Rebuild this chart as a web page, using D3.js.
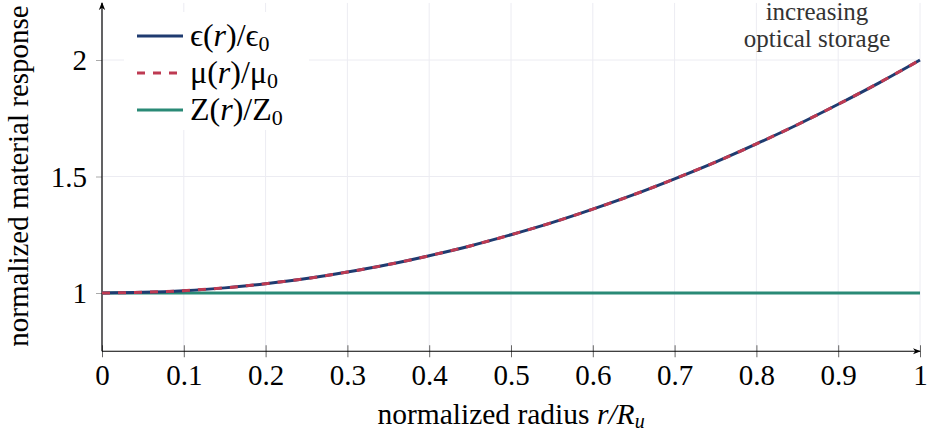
<!DOCTYPE html>
<html>
<head>
<meta charset="utf-8">
<script src="https://cdn.jsdelivr.net/npm/d3@7"></script>
<style>
  body { margin: 0; background: white; }
  svg text { font-family: "Liberation Serif", "DejaVu Serif", serif; }
</style>
</head>
<body>
<svg id="chart" width="928" height="436"></svg>
<script>
// values
const radius = [0, 0.05, 0.1, 0.15, 0.2, 0.25, 0.3, 0.35, 0.4, 0.45, 0.5,
  0.55, 0.6, 0.65, 0.7, 0.75, 0.8, 0.85, 0.9, 0.95, 1];
const epsRatio = [1, 1.003, 1.01, 1.022, 1.04, 1.062, 1.09, 1.122, 1.16, 1.202, 1.25,
  1.302, 1.36, 1.422, 1.49, 1.562, 1.64, 1.722, 1.81, 1.902, 2];
const muRatio = epsRatio.slice();
const zRatio = [1, 1, 1, 1, 1, 1, 1, 1, 1, 1, 1, 1, 1, 1, 1, 1, 1, 1, 1, 1, 1];
const xTicks = [0, 0.1, 0.2, 0.3, 0.4, 0.5, 0.6, 0.7, 0.8, 0.9, 1];
const yTicks = [1, 1.5, 2];

const svg = d3.select('#chart');
const x = d3.scaleLinear().domain([0, 1]).range([102, 920]);
const y = d3.scaleLinear().domain([1, 2]).range([293, 60]);
const yMin = 0.75, yMax = 2.245;

// grid
svg.append('g').selectAll('line')
  .data(xTicks)
  .enter().append('line')
  .attr('x1', d => x(d)).attr('x2', d => x(d))
  .attr('y1', y(yMin)).attr('y2', y(yMax))
  .attr('stroke', '#ececf2').attr('stroke-width', 1);
svg.append('g').selectAll('line')
  .data(yTicks)
  .enter().append('line')
  .attr('x1', x(0)).attr('x2', x(1))
  .attr('y1', d => y(d)).attr('y2', d => y(d))
  .attr('stroke', '#ececf2').attr('stroke-width', 1);

// axes
const xAxis = svg.append('g')
  .attr('transform', `translate(0,${y(yMin)})`)
  .call(d3.axisBottom(x).tickValues(xTicks).tickFormat(d => d).tickSize(6).tickSizeOuter(0));
xAxis.select('.domain').remove();
xAxis.selectAll('.tick line').attr('y1', -6).attr('stroke', '#666');
xAxis.selectAll('.tick text').attr('dy', 0).attr('y', 34)
  .attr('font-size', 29).attr('fill', '#000');

const yAxis = svg.append('g')
  .attr('transform', `translate(${x(0)},0)`)
  .call(d3.axisLeft(y).tickValues(yTicks).tickFormat(d => d).tickSize(6).tickSizeOuter(0));
yAxis.select('.domain').remove();
yAxis.selectAll('.tick line').attr('stroke', '#aaa');
yAxis.selectAll('.tick text').attr('x', -15).attr('dy', '0.33em')
  .attr('font-size', 29).attr('fill', '#000');
xAxis.attr('font-family', null);
yAxis.attr('font-family', null);

const defs = svg.append('defs');
defs.append('marker').attr('id', 'arrow')
  .attr('viewBox', '0 0 10 10').attr('refX', 9).attr('refY', 5)
  .attr('markerWidth', 8).attr('markerHeight', 8).attr('orient', 'auto-start-reverse')
  .attr('markerUnits', 'userSpaceOnUse')
  .append('path').attr('d', 'M0,1 L10,5 L0,9 L3,5 Z').attr('fill', '#000');

svg.append('line')
  .attr('x1', x(0)).attr('x2', x(1))
  .attr('y1', y(yMin)).attr('y2', y(yMin))
  .attr('stroke', '#000').attr('stroke-width', 1.2)
  .attr('marker-end', 'url(#arrow)');
svg.append('line')
  .attr('x1', x(0)).attr('x2', x(0))
  .attr('y1', y(yMin)).attr('y2', y(yMax))
  .attr('stroke', '#000').attr('stroke-width', 1.2)
  .attr('marker-end', 'url(#arrow)');

// curves
const line = d3.line()
  .x((d, i) => x(radius[i]))
  .y(d => y(d))
  .curve(d3.curveMonotoneX);

svg.append('path').datum(zRatio)
  .attr('d', line).attr('fill', 'none')
  .attr('stroke', '#2a8a76').attr('stroke-width', 3);
svg.append('path').datum(epsRatio)
  .attr('d', line).attr('fill', 'none')
  .attr('stroke', '#1f3b70').attr('stroke-width', 3);
svg.append('path').datum(muRatio)
  .attr('d', line).attr('fill', 'none')
  .attr('stroke', '#be3a52').attr('stroke-width', 3)
  .attr('stroke-dasharray', '8,8');

// annotation
const note = svg.append('text')
  .attr('text-anchor', 'middle')
  .attr('font-size', 25).attr('fill', '#333');
note.append('tspan').attr('x', 817).attr('y', 20).text('increasing');
note.append('tspan').attr('x', 817).attr('y', 47).text('optical storage');

// legend
const legendItems = [
  { label: ['ϵ(', 'r', ')/ϵ', '0'], color: '#1f3b70', dash: null },
  { label: ['μ(', 'r', ')/μ', '0'], color: '#be3a52', dash: '8,8' },
  { label: ['Z(', 'r', ')/Z', '0'], color: '#2a8a76', dash: null }
];
const legend = svg.append('g');
legend.append('rect')
  .attr('x', 124).attr('y', 12).attr('width', 185).attr('height', 118)
  .attr('fill', 'white');
legendItems.forEach((d, i) => {
  const ly = 36 + i * 37;
  legend.append('line')
    .attr('x1', 137).attr('x2', 183).attr('y1', ly).attr('y2', ly)
    .attr('stroke', d.color).attr('stroke-width', 3)
    .attr('stroke-dasharray', d.dash);
  const t = legend.append('text')
    .attr('x', 190).attr('y', ly + 10)
    .attr('font-size', 32).attr('font-style', 'italic');
  t.append('tspan').attr('font-style', 'normal').text(d.label[0]);
  t.append('tspan').text(d.label[1]);
  t.append('tspan').attr('font-style', 'normal').text(d.label[2]);
  t.append('tspan').attr('font-size', 22).attr('dy', 5).attr('font-style', 'normal').text(d.label[3]);
});

// axis titles
const xt = svg.append('text')
  .attr('x', 511).attr('y', 424).attr('text-anchor', 'middle')
  .attr('font-size', 29.5);
xt.append('tspan').text('normalized radius ');
xt.append('tspan').attr('font-style', 'italic').text('r/R');
xt.append('tspan').attr('font-style', 'italic').attr('font-size', 20).attr('dy', 4).text('u');

svg.append('text')
  .attr('transform', 'translate(28,176) rotate(-90)')
  .attr('text-anchor', 'middle')
  .attr('font-size', 29)
  .text('normalized material response');
</script>
</body>
</html>
